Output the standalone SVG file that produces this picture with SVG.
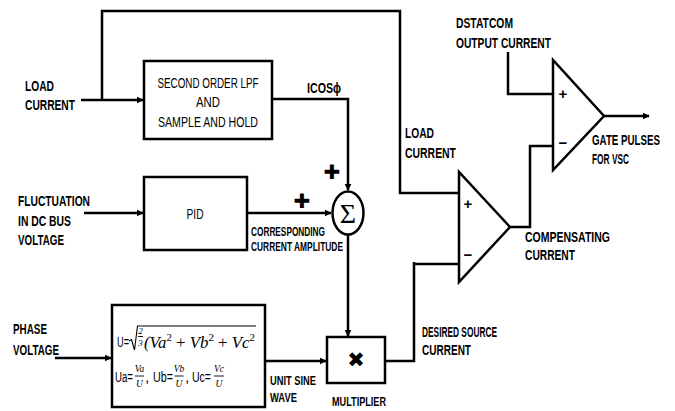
<svg xmlns="http://www.w3.org/2000/svg" width="675" height="411" viewBox="0 0 675 411">
<defs>
<marker id="arr" viewBox="0 0 10 10" refX="9" refY="5" markerWidth="7" markerHeight="7" markerUnits="userSpaceOnUse" orient="auto">
<path d="M0,0 L10,5 L0,10 z" fill="#000"/>
</marker>
<style>
.w{fill:none;stroke:#000;stroke-width:2.5}
.b{fill:#fff;stroke:#000;stroke-width:2.5}
.t{font-family:"Liberation Sans Narrow","Liberation Sans",Arial,sans-serif;font-size:15px;font-weight:bold;fill:#000}
.s{font-family:"Liberation Sans Narrow","Liberation Sans",Arial,sans-serif;font-size:12.5px;font-weight:bold;fill:#000}
.n{font-family:"Liberation Sans Narrow","Liberation Sans",Arial,sans-serif;font-size:15.5px;fill:#000}
.m{font-family:"Liberation Serif","DejaVu Serif",serif;font-style:italic;fill:#000}
.sym{font-family:"DejaVu Sans",sans-serif;fill:#000}
.fb{stroke:#000;stroke-width:0.9}
</style>
</defs>
<rect width="675" height="411" fill="#fff"/>

<g id="connectors">
<path class="w" d="M81,100 H143" marker-end="url(#arr)"/>
<path class="w" d="M102,100 V11 H400 V193 H459"/>
<path class="w" d="M272,99 H348 V190" marker-end="url(#arr)"/>
<path class="w" d="M84,213 H143" marker-end="url(#arr)"/>
<path class="w" d="M247,213 H331" marker-end="url(#arr)"/>
<path class="w" d="M348,235 V336" marker-end="url(#arr)"/>
<path class="w" d="M55,358 H111" marker-end="url(#arr)"/>
<path class="w" d="M265,361 H326" marker-end="url(#arr)"/>
<path class="w" d="M385,361 H414 V262 M414,264 H459"/>
<path class="w" d="M508,52 V94 H553"/>
<path class="w" d="M510,227 H530 V146 H553"/>
<path class="w" d="M604,116 H649" marker-end="url(#arr)"/>
</g>

<g id="lpf">
<rect class="b" x="144" y="61" width="128" height="78"/>
<text class="n" x="208" y="88" text-anchor="middle" textLength="101" lengthAdjust="spacingAndGlyphs">SECOND ORDER LPF</text>
<text class="n" x="208" y="107" text-anchor="middle" textLength="24" lengthAdjust="spacingAndGlyphs">AND</text>
<text class="n" x="208" y="127" text-anchor="middle" textLength="100" lengthAdjust="spacingAndGlyphs">SAMPLE AND HOLD</text>
</g>

<g id="pid">
<rect class="b" x="144" y="177" width="103" height="73"/>
<text class="n" x="195" y="219" text-anchor="middle" textLength="17" lengthAdjust="spacingAndGlyphs">PID</text>
</g>

<g id="sum">
<ellipse class="b" cx="348" cy="213" rx="15.5" ry="21.5"/>
<text x="348" y="223" text-anchor="middle" font-family="Liberation Serif,serif" font-size="28">Σ</text>
</g>

<g id="unitvector">
<rect class="b" x="112" y="305" width="153" height="102"/>
<text class="n" x="117" y="347" textLength="12" lengthAdjust="spacingAndGlyphs">U=</text>
<path d="M129,341 L131.5,339.5 L134.5,350 L137.5,326 H256" fill="none" stroke="#000" stroke-width="1.1"/>
<text class="m" x="140.5" y="334" font-size="9" font-style="normal" text-anchor="middle">2</text>
<line class="fb" x1="138" y1="336.5" x2="143" y2="336.5"/>
<text class="m" x="140.5" y="346" font-size="9" font-style="normal" text-anchor="middle">3</text>
<text class="m" x="144" y="348" font-size="17" textLength="111" lengthAdjust="spacingAndGlyphs">(<tspan>Va</tspan><tspan dy="-7" font-size="11" font-style="normal">2</tspan><tspan dy="7" font-style="normal"> + </tspan><tspan>Vb</tspan><tspan dy="-7" font-size="11" font-style="normal">2</tspan><tspan dy="7" font-style="normal"> + </tspan><tspan>Vc</tspan><tspan dy="-7" font-size="11" font-style="normal">2</tspan></text>
<text class="n" x="115" y="382" font-size="14.5" textLength="18" lengthAdjust="spacingAndGlyphs">Ua=</text>
<text class="m" x="139.5" y="372" font-size="9.5" text-anchor="middle">Va</text>
<line class="fb" x1="135" y1="376" x2="144" y2="376"/>
<text class="m" x="139.5" y="387" font-size="9.5" text-anchor="middle">U</text>
<text class="n" x="145" y="382" font-size="14.5">,</text>
<text class="n" x="153" y="382" font-size="14.5" textLength="20" lengthAdjust="spacingAndGlyphs">Ub=</text>
<text class="m" x="179" y="372" font-size="9.5" text-anchor="middle">Vb</text>
<line class="fb" x1="174.5" y1="376" x2="183.5" y2="376"/>
<text class="m" x="179" y="387" font-size="9.5" text-anchor="middle">U</text>
<text class="n" x="185" y="382" font-size="14.5">,</text>
<text class="n" x="192" y="382" font-size="14.5" textLength="19" lengthAdjust="spacingAndGlyphs">Uc=</text>
<text class="m" x="219" y="372" font-size="9.5" text-anchor="middle">Vc</text>
<line class="fb" x1="214" y1="376" x2="224" y2="376"/>
<text class="m" x="219" y="387" font-size="9.5" text-anchor="middle">U</text>
</g>

<g id="multiplier">
<rect class="b" x="327" y="337" width="58" height="46"/>
<text class="sym" x="356" y="367" text-anchor="middle" font-size="21">✖</text>
</g>

<g id="comparator1">
<path class="b" d="M459,172 V282 L510,227 Z"/>
<text class="t" x="468" y="209" text-anchor="middle" font-size="17">+</text>
<text class="t" x="468" y="260" text-anchor="middle" font-size="17">−</text>
</g>

<g id="comparator2">
<path class="b" d="M553,60 V170 L604,116 Z"/>
<text class="t" x="563" y="99" text-anchor="middle" font-size="17">+</text>
<text class="t" x="563" y="148" text-anchor="middle" font-size="17">−</text>
</g>

<g id="labels">
<text class="t" x="25" y="91" textLength="29" lengthAdjust="spacingAndGlyphs">LOAD</text>
<text class="t" x="25" y="110" textLength="50" lengthAdjust="spacingAndGlyphs">CURRENT</text>
<text class="t" x="307" y="93" textLength="34" lengthAdjust="spacingAndGlyphs">ICOSϕ</text>
<text class="t" x="456" y="28" textLength="57" lengthAdjust="spacingAndGlyphs">DSTATCOM</text>
<text class="t" x="456" y="48" textLength="95" lengthAdjust="spacingAndGlyphs">OUTPUT CURRENT</text>
<text class="t" x="405" y="138" textLength="29" lengthAdjust="spacingAndGlyphs">LOAD</text>
<text class="t" x="405" y="158" textLength="51" lengthAdjust="spacingAndGlyphs">CURRENT</text>
<text class="t" x="592" y="145" font-size="13" textLength="68" lengthAdjust="spacingAndGlyphs">GATE PULSES</text>
<text class="t" x="592" y="164" font-size="13" textLength="37" lengthAdjust="spacingAndGlyphs">FOR VSC</text>
<text class="t" x="18" y="206" textLength="72" lengthAdjust="spacingAndGlyphs">FLUCTUATION</text>
<text class="t" x="18" y="226" textLength="53" lengthAdjust="spacingAndGlyphs">IN DC BUS</text>
<text class="t" x="18" y="245" textLength="46" lengthAdjust="spacingAndGlyphs">VOLTAGE</text>
<text class="s" x="251" y="236" textLength="74" lengthAdjust="spacingAndGlyphs">CORRESPONDING</text>
<text class="s" x="251" y="251" textLength="92" lengthAdjust="spacingAndGlyphs">CURRENT AMPLITUDE</text>
<text class="t" x="525" y="242" textLength="85" lengthAdjust="spacingAndGlyphs">COMPENSATING</text>
<text class="t" x="525" y="260" textLength="50" lengthAdjust="spacingAndGlyphs">CURRENT</text>
<text class="t" x="13" y="334" textLength="34" lengthAdjust="spacingAndGlyphs">PHASE</text>
<text class="t" x="13" y="355" textLength="46" lengthAdjust="spacingAndGlyphs">VOLTAGE</text>
<text class="s" x="270" y="385" textLength="46" lengthAdjust="spacingAndGlyphs">UNIT SINE</text>
<text class="s" x="270" y="402" textLength="27" lengthAdjust="spacingAndGlyphs">WAVE</text>
<text class="s" x="332" y="406" textLength="54" lengthAdjust="spacingAndGlyphs">MULTIPLIER</text>
<text class="t" x="422" y="337" textLength="75" lengthAdjust="spacingAndGlyphs">DESIRED SOURCE</text>
<text class="t" x="422" y="355" textLength="49" lengthAdjust="spacingAndGlyphs">CURRENT</text>
<text class="sym" x="332" y="179" text-anchor="middle" font-size="20">✚</text>
<text class="sym" x="302" y="208" text-anchor="middle" font-size="20">✚</text>
</g>
</svg>
